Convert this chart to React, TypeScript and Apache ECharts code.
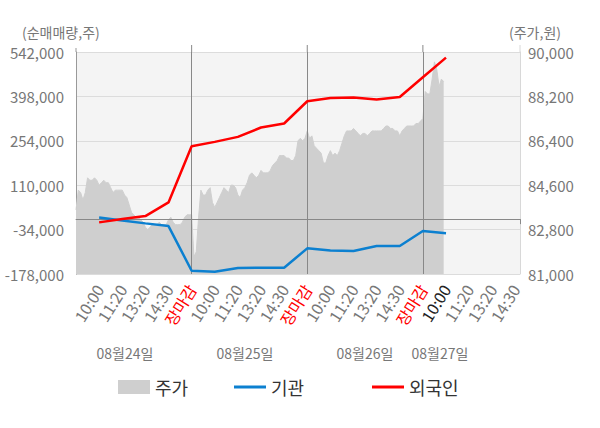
import React, { useEffect, useRef } from 'react';
import * as echarts from 'echarts';

// x-axis slot labels (every 10th category point)
const TICK_LABELS = [
  '10:00', '11:20', '13:20', '14:30', '장마감',
  '10:00', '11:20', '13:20', '14:30', '장마감',
  '10:00', '11:20', '13:20', '14:30', '장마감',
  '10:00', '11:20', '13:20', '14:30',
];
const DATE_LABELS = ['08월24일', '08월25일', '08월26일', '08월27일'];
const TOTAL_POINTS = 193;
const POINTS_PER_SLOT = 10;
const POINTS_PER_DAY = 50;

// 주가 (price, right axis)
const PRICE = [
  83600, 84400, 84300, 84000, 84300, 84900, 84800, 84800, 84900, 84800,
  84600, 84700, 84800, 84700, 84700, 84500, 84300, 84400, 84400, 84400,
  84400, 84200, 84100, 83800, 83500, 83400, 83300, 83300, 83200, 83100,
  82900, 82800, 82900, 83000, 83000, 83000, 83100, 83000, 83000, 83000,
  83200, 83300, 83100, 83000, 83000, 83000, 83100, 83300, 83400, 83400,
  83400, 81700, 81900, 83300, 84400, 84200, 84200, 84400, 84500, 83900,
  83700, 83900, 84100, 84300, 84500, 84400, 84300, 84600, 84600, 84500,
  84200, 84100, 84400, 84500, 84700, 85000, 85100, 85000, 84900, 85000,
  85200, 85100, 85100, 85100, 85200, 85400, 85500, 85600, 85800, 85800,
  85800, 85700, 85700, 85600, 85600, 85800, 86400, 86500, 86400, 86500,
  86800, 86500, 86600, 86200, 86100, 86000, 85900, 85500, 85500, 85800,
  86000, 85800, 85900, 85800, 86000, 86300, 86600, 86800, 86800, 86800,
  86900, 86800, 86700, 86600, 86700, 86700, 86600, 86700, 86800, 86800,
  86800, 86800, 86800, 86900, 87000, 87000, 86900, 86900, 86800, 86800,
  86600, 86800, 86900, 87000, 87000, 87000, 87000, 87100, 87100, 87200,
  87300, 88400, 88300, 88300, 88900, 89600, 89300, 88600, 88900, 88800,
];

// cumulative net buying, sampled at the label slots
const LINE_SLOTS = [10, 20, 30, 40, 50, 60, 70, 80, 90, 100, 110, 120, 130, 140, 150, 160];
const INSTITUTION = [
  5600, -4700, -13800, -22500, -167300, -170600, -158600, -157600,
  -157600, -94800, -101900, -103500, -87300, -87300, -38700, -46200,
];
const FOREIGN = [
  -10600, 100, 9800, 54200, 236600, 250500, 266700, 297100,
  310100, 382300, 393000, 394300, 387800, 396300, 460100, 523900,
];

const LEFT_MIN = -178000;
const LEFT_MAX = 542000;
const LEFT_STEP = 144000;
const RIGHT_MIN = 81000;
const RIGHT_MAX = 90000;
const RIGHT_STEP = 1800;

const FONT = '"Noto Sans CJK KR", "Noto Sans", sans-serif';
const BLUE = '#0c80d0';
const RED = '#ff0000';
const AREA = '#cfcfcf';

export default function App() {
  const ref = useRef<HTMLDivElement>(null);

  useEffect(() => {
    if (!ref.current) return;
    const chart = echarts.init(ref.current, undefined, { renderer: 'svg' });

    const categories = Array.from({ length: TOTAL_POINTS }, (_, i) => String(i));
    const labelAt: Record<number, string> = {};
    TICK_LABELS.forEach((t, k) => {
      labelAt[(k + 1) * POINTS_PER_SLOT] = t;
    });
    const darkIndex = 16 * POINTS_PER_SLOT;
    const fmt = (n: number) => n.toLocaleString('en-US');
    const dayBounds = [1, 2, 3].map((d) => String(d * POINTS_PER_DAY));

    const legendText = { fontSize: 18, color: '#333', fontFamily: FONT };

    chart.setOption({
      animation: false,
      textStyle: { fontFamily: FONT },
      grid: {
        left: 76, right: 80, top: 52, bottom: 154,
        show: true, backgroundColor: '#f4f4f4', borderWidth: 0,
      },
      legend: [
        {
          data: [{ name: '주가', icon: 'rect' }], left: 113, top: 373,
          itemWidth: 32, itemHeight: 14, textStyle: legendText,
        },
        {
          data: [{ name: '기관', icon: 'rect' }], left: 229, top: 373,
          itemWidth: 32, itemHeight: 3, textStyle: legendText,
        },
        {
          data: [{ name: '외국인', icon: 'rect' }], left: 367, top: 373,
          itemWidth: 32, itemHeight: 3, textStyle: legendText,
        },
      ],
      xAxis: {
        type: 'category',
        data: categories,
        boundaryGap: false,
        axisLine: { show: true, lineStyle: { color: '#999' } },
        axisTick: {
          show: true, length: 5,
          interval: (i: number) => i % POINTS_PER_DAY === 0 || i === TOTAL_POINTS - 1,
          lineStyle: { color: '#888' },
        },
        splitLine: { show: false },
        axisLabel: {
          rotate: 58,
          margin: 12,
          interval: (i: number) => labelAt[i] !== undefined,
          formatter: (v: string) => {
            const i = Number(v);
            const t = labelAt[i];
            if (!t) return '';
            if (t === '장마감') return `{r|${t}}`;
            if (i === darkIndex) return `{k|${t}}`;
            return `{g|${t}}`;
          },
          rich: {
            r: { color: RED, fontSize: 16, fontFamily: FONT },
            k: { color: '#222', fontSize: 16, fontFamily: FONT },
            g: { color: '#777', fontSize: 16, fontFamily: FONT },
          },
        },
      },
      yAxis: [
        {
          type: 'value',
          min: LEFT_MIN, max: LEFT_MAX, interval: LEFT_STEP,
          axisLine: { show: true, lineStyle: { color: '#999' } },
          axisTick: { show: false },
          splitLine: { show: true, lineStyle: { color: '#dcdcdc' } },
          axisLabel: { formatter: fmt, color: '#777', fontSize: 15, margin: 12, fontFamily: FONT },
        },
        {
          type: 'value',
          min: RIGHT_MIN, max: RIGHT_MAX, interval: RIGHT_STEP,
          position: 'right',
          axisLine: { show: true, lineStyle: { color: '#d8d8d8' } },
          axisTick: { show: false },
          splitLine: { show: false },
          axisLabel: { formatter: fmt, color: '#777', fontSize: 15, margin: 8, fontFamily: FONT },
        },
      ],
      series: [
        {
          name: '주가',
          type: 'line',
          yAxisIndex: 1,
          data: PRICE,
          symbol: 'none',
          itemStyle: { color: AREA },
          lineStyle: { color: AREA, width: 1 },
          areaStyle: { color: AREA, opacity: 1, origin: 'start' },
          z: 1,
          markLine: {
            silent: true,
            symbol: 'none',
            label: { show: false },
            lineStyle: { color: '#888', width: 1, type: 'solid' },
            data: dayBounds.map((c) => ({ xAxis: c })),
            z: 2,
          },
        },
        {
          name: '기관',
          type: 'line',
          yAxisIndex: 0,
          data: LINE_SLOTS.map((s, k) => [s, INSTITUTION[k]]),
          symbol: 'none',
          itemStyle: { color: BLUE },
          lineStyle: { color: BLUE, width: 2.5 },
          z: 3,
          markLine: {
            silent: true,
            symbol: 'none',
            label: { show: false },
            lineStyle: { color: '#888', width: 1, type: 'solid' },
            data: [{ yAxis: 0 }],
            z: 2,
          },
        },
        {
          name: '외국인',
          type: 'line',
          yAxisIndex: 0,
          data: LINE_SLOTS.map((s, k) => [s, FOREIGN[k]]),
          symbol: 'none',
          itemStyle: { color: RED },
          lineStyle: { color: RED, width: 2.5 },
          z: 4,
        },
      ],
    });

    // extensions of the day separators / axis lines above the plot, and texts
    const topY = chart.convertToPixel({ yAxisIndex: 0 }, LEFT_MAX) as number;
    const dayX = [1, 2, 3].map((d) => chart.convertToPixel({ xAxisIndex: 0 }, d * POINTS_PER_DAY) as number);
    const leftX = chart.convertToPixel({ xAxisIndex: 0 }, 0) as number;
    const rightX = chart.convertToPixel({ xAxisIndex: 0 }, TOTAL_POINTS - 1) as number;

    const graphics: any[] = [];
    dayX.forEach((x) => {
      graphics.push({
        type: 'line', silent: true,
        shape: { x1: x, y1: topY - 7, x2: x, y2: topY },
        style: { stroke: '#888', lineWidth: 1 },
      });
    });
    graphics.push({
      type: 'line', silent: true,
      shape: { x1: leftX, y1: topY - 4, x2: leftX, y2: topY },
      style: { stroke: '#999', lineWidth: 1 },
    });
    graphics.push({
      type: 'line', silent: true,
      shape: { x1: rightX, y1: topY - 7, x2: rightX, y2: topY },
      style: { stroke: '#d8d8d8', lineWidth: 1 },
    });
    graphics.push({
      type: 'text', left: 22, top: 25,
      style: { text: '(순매매량,주)', fill: '#777', fontSize: 14, fontFamily: FONT },
    });
    graphics.push({
      type: 'text', left: 509, top: 25,
      style: { text: '(주가,원)', fill: '#777', fontSize: 14, fontFamily: FONT },
    });
    const dateCenters = [125, 245, 365, 440];
    DATE_LABELS.forEach((t, k) => {
      graphics.push({
        type: 'text', x: dateCenters[k], y: 353,
        style: {
          text: t, fill: '#777', fontSize: 14, fontFamily: FONT,
          align: 'center', verticalAlign: 'middle',
        },
      });
    });
    chart.setOption({ graphic: graphics });

    return () => chart.dispose();
  }, []);

  return (
    <div
      ref={ref}
      style={{ position: 'fixed', left: 0, top: 0, width: 600, height: 428, background: '#fff' }}
    />
  );
}
